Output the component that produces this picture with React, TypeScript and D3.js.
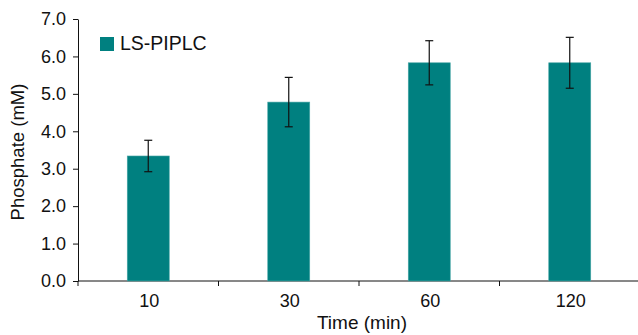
import React, { useEffect, useRef } from 'react';
import * as d3 from 'd3';

const categories = ['10', '30', '60', '120'];
const means = [3.34, 4.78, 5.83, 5.83];
const errors = [0.42, 0.66, 0.59, 0.68];
const yTicks = [0, 1, 2, 3, 4, 5, 6, 7];
const seriesName = 'LS-PIPLC';

const W = 638;
const H = 335;

const App = () => {
  const svgRef = useRef<SVGSVGElement>(null);

  useEffect(() => {
    const svg = d3.select(svgRef.current);
    svg.selectAll('*').remove();

    const margin = { top: 19, right: 0, bottom: 54, left: 78 };
    const innerW = 640 - margin.left;
    const innerH = H - margin.top - margin.bottom;
    const font = 'Liberation Sans, Arial, sans-serif';

    const g = svg.append('g').attr('transform', `translate(${margin.left},${margin.top})`);

    const x = d3.scaleBand().domain(categories).range([0, innerW]).paddingInner(0).paddingOuter(0);
    const y = d3.scaleLinear().domain([0, 7]).range([innerH, 0]);
    const barW = 42;

    // y axis
    const yAxis = g.append('g').call(
      d3.axisLeft(y).tickValues(yTicks).tickFormat(d3.format('.1f')).tickSize(5).tickSizeOuter(0)
    );
    yAxis.selectAll('text').attr('font-size', 18).attr('font-family', font).attr('fill', '#111').attr('dx', '-4');
    yAxis.selectAll('line, path').attr('stroke', '#111');

    // x axis, ticks sit on the band edges
    const xAxisG = g.append('g').attr('transform', `translate(0,${innerH})`);
    xAxisG.append('line').attr('x1', 0).attr('x2', innerW).attr('y1', 0).attr('y2', 0).attr('stroke', '#111');
    xAxisG
      .selectAll('.tk')
      .data(categories)
      .join('line')
      .attr('x1', (d) => x(d)!)
      .attr('x2', (d) => x(d)!)
      .attr('y1', 0)
      .attr('y2', 5)
      .attr('stroke', '#111');
    xAxisG
      .selectAll('.lbl')
      .data(categories)
      .join('text')
      .attr('x', (d) => x(d)! + x.bandwidth() / 2 + 1)
      .attr('y', 25.5)
      .attr('text-anchor', 'middle')
      .attr('font-size', 18)
      .attr('font-family', font)
      .attr('fill', '#111')
      .text((d) => d);

    // bars
    g.selectAll('.bar')
      .data(categories)
      .join('rect')
      .attr('x', (d) => x(d)! + x.bandwidth() / 2 - barW / 2)
      .attr('y', (d, i) => y(means[i]))
      .attr('width', barW)
      .attr('height', (d, i) => innerH - y(means[i]))
      .attr('fill', '#008080')
      .attr('stroke', '#4aa6a6')
      .attr('stroke-width', 0.6);

    // error bars
    const eb = g
      .selectAll('.eb')
      .data(categories)
      .join('g')
      .attr('transform', (d) => `translate(${x(d)! + x.bandwidth() / 2},0)`);
    eb.append('line')
      .attr('y1', (d, i) => y(means[i] - errors[i]))
      .attr('y2', (d, i) => y(means[i] + errors[i]))
      .attr('stroke', '#111')
      .attr('stroke-width', 1.2);
    eb.append('line')
      .attr('x1', -4)
      .attr('x2', 4)
      .attr('y1', (d, i) => y(means[i] + errors[i]))
      .attr('y2', (d, i) => y(means[i] + errors[i]))
      .attr('stroke', '#111')
      .attr('stroke-width', 1.2);
    eb.append('line')
      .attr('x1', -4)
      .attr('x2', 4)
      .attr('y1', (d, i) => y(means[i] - errors[i]))
      .attr('y2', (d, i) => y(means[i] - errors[i]))
      .attr('stroke', '#111')
      .attr('stroke-width', 1.2);

    // legend
    svg.append('rect').attr('x', 100).attr('y', 37).attr('width', 14).attr('height', 14).attr('fill', '#008080');
    svg
      .append('text')
      .attr('x', 120)
      .attr('y', 50)
      .attr('font-size', 19.5)
      .attr('font-family', font)
      .attr('fill', '#111')
      .text(seriesName);

    // axis titles
    svg
      .append('text')
      .attr('transform', `translate(24,${margin.top + innerH / 2 + 2}) rotate(-90)`)
      .attr('text-anchor', 'middle')
      .attr('font-size', 18.5)
      .attr('font-family', font)
      .attr('fill', '#111')
      .text('Phosphate (mM)');
    svg
      .append('text')
      .attr('x', 362)
      .attr('y', 329)
      .attr('text-anchor', 'middle')
      .attr('font-size', 19)
      .attr('font-family', font)
      .attr('fill', '#111')
      .text('Time (min)');
  }, []);

  return (
    <svg
      ref={svgRef}
      width={W}
      height={H}
      style={{ position: 'absolute', left: 0, top: 0, background: '#fff' }}
    />
  );
};

export default App;
